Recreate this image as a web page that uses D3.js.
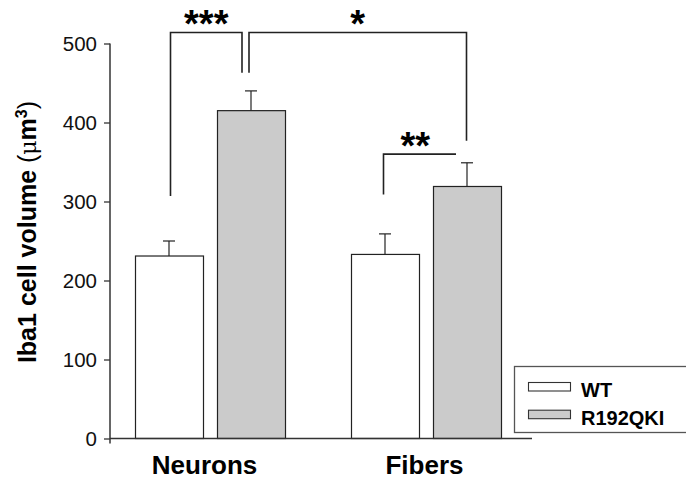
<!DOCTYPE html>
<html><head><meta charset="utf-8">
<script src="https://cdn.jsdelivr.net/npm/d3@7"></script>
<style>
html,body{margin:0;padding:0;background:#fff;}
svg{display:block;font-family:"Liberation Sans",Arial,Helvetica,sans-serif;}
</style></head>
<body>
<svg id="chart" width="686" height="480"></svg>
<script>
const categories = ["Neurons", "Fibers"];
const seriesNames = ["WT", "R192QKI"];
const wtValues = [231, 233];
const qkiValues = [415, 319];
const wtErrors = [19, 26];
const qkiErrors = [25, 30];
const yTicks = [0, 100, 200, 300, 400, 500];
const yLabel = "Iba1 cell volume";
// significance brackets: [category, series] pairs and levels in data units
const sigLabels = ["***", "*", "**"];
const sigLeft = [["Neurons", "WT"], ["Neurons", "R192QKI"], ["Fibers", "WT"]];
const sigRight = [["Neurons", "R192QKI"], ["Fibers", "R192QKI"], ["Fibers", "R192QKI"]];
const sigTop = [514, 514, 360];
const sigLeftBottom = [307, 463, 309];
const sigRightBottom = [463, 377, null];

const colors = {"WT": "#ffffff", "R192QKI": "#cbcbcb"};
const values = {"WT": wtValues, "R192QKI": qkiValues};
const errors = {"WT": wtErrors, "R192QKI": qkiErrors};

const svg = d3.select("#chart");
const y = d3.scaleLinear().domain([0, 500]).range([438.5, 43.5]);
const x0 = d3.scaleBand().domain(categories).range([102, 534]).paddingInner(0).paddingOuter(0);
const x1 = d3.scaleBand().domain(seriesNames).range([33, 183]).paddingInner(14/82).paddingOuter(0);

const barX = (c, s) => x0(c) + x1(s);
const barC = (c, s) => x0(c) + x1(s) + x1.bandwidth() / 2;

const data = [];
categories.forEach((c, i) => seriesNames.forEach(s => data.push({c, s, v: values[s][i], e: errors[s][i]})));

const g = svg.append("g");
g.selectAll(".err").data(data).enter().append("line")
  .attr("x1", d => barC(d.c, d.s)).attr("x2", d => barC(d.c, d.s))
  .attr("y1", d => y(d.v)).attr("y2", d => y(d.v + d.e))
  .attr("stroke", "#222").attr("stroke-width", 1.2);
g.selectAll(".cap").data(data).enter().append("line")
  .attr("x1", d => barC(d.c, d.s) - 6).attr("x2", d => barC(d.c, d.s) + 6)
  .attr("y1", d => y(d.v + d.e)).attr("y2", d => y(d.v + d.e))
  .attr("stroke", "#222").attr("stroke-width", 1.2);
g.selectAll(".bar").data(data).enter().append("rect")
  .attr("x", d => barX(d.c, d.s) + 0.5)
  .attr("y", d => y(d.v))
  .attr("width", x1.bandwidth())
  .attr("height", d => y(0) - y(d.v))
  .attr("fill", d => colors[d.s])
  .attr("stroke", "#222").attr("stroke-width", 1.2);

// y axis
const yAxis = d3.axisLeft(y).tickValues(yTicks).tickSize(6).tickPadding(7).tickFormat(d3.format("d"));
const ya = svg.append("g").attr("transform", "translate(110,0)").call(yAxis);
ya.select(".domain").remove();
ya.append("line").attr("x1", 0).attr("x2", 0).attr("y1", y(500)).attr("y2", y(0) + 5).attr("stroke", "#333").attr("stroke-width", 1.5);
ya.selectAll(".tick line").attr("stroke", "#333").attr("stroke-width", 1.3);
ya.selectAll(".tick text").attr("font-size", 20.5).attr("fill", "#111").attr("font-family", "Liberation Sans, Arial, sans-serif");

// x axis
const xAxis = d3.axisBottom(x0).tickSize(0).tickPadding(17);
const xa = svg.append("g").attr("transform", `translate(0,${y(0)})`).call(xAxis);
xa.select(".domain").remove();
xa.append("line").attr("x1", 110).attr("x2", 532).attr("y1", 0).attr("y2", 0).attr("stroke", "#333").attr("stroke-width", 1.5);
xa.selectAll(".tick text").attr("font-size", 26).attr("font-weight", "bold").attr("fill", "#000")
  .attr("font-family", "Liberation Sans, Arial, sans-serif").attr("dx", d => d === "Neurons" ? -5.5 : -1.5);

// y label
const yl = svg.append("text").attr("transform", "translate(36,232) rotate(-90)")
  .attr("text-anchor", "middle").attr("font-size", 25).attr("font-weight", "bold").attr("fill", "#000");
yl.append("tspan").text(yLabel + " ");
yl.append("tspan").attr("font-weight", "normal").text("(");
yl.append("tspan").attr("font-weight", "normal").attr("font-family", "DejaVu Serif, serif").attr("font-size", 22).text("μ");
yl.append("tspan").text("m");
yl.append("tspan").attr("dy", -9).attr("font-size", 16).text("3");
yl.append("tspan").attr("dy", 9).attr("font-weight", "normal").text(")");

// significance brackets
const offsets = [[1.5, -9], [-2, -0.5], [-1.5, -11]];
const labelShift = [0, 0, -4.5];
sigLabels.forEach((lab, i) => {
  const xl = barC(...sigLeft[i]) + offsets[i][0];
  const xr = barC(...sigRight[i]) + offsets[i][1];
  const pts = [[xl, y(sigLeftBottom[i])], [xl, y(sigTop[i])], [xr, y(sigTop[i])]];
  if (sigRightBottom[i] !== null) pts.push([xr, y(sigRightBottom[i])]);
  svg.append("path").attr("d", d3.line()(pts)).attr("fill", "none").attr("stroke", "#222").attr("stroke-width", 1.6);
  svg.append("text").attr("x", (xl + xr) / 2 + labelShift[i]).attr("y", y(sigTop[i]) + 5)
    .attr("text-anchor", "middle").attr("font-size", 38).attr("font-weight", "bold").attr("fill", "#000").text(lab);
});

// legend
const lg = svg.append("g");
lg.append("rect").attr("x", 514.5).attr("y", 366.5).attr("width", 200).attr("height", 66)
  .attr("fill", "#fff").attr("stroke", "#555").attr("stroke-width", 1.3);
seriesNames.forEach((s, i) => {
  lg.append("rect").attr("x", 528.5).attr("y", 382.5 + i * 27.7).attr("width", 42).attr("height", 8.5)
    .attr("fill", colors[s]).attr("stroke", "#333").attr("stroke-width", 1.1);
  lg.append("text").attr("x", 581).attr("y", 397 + i * 27.7).attr("font-size", 20).attr("font-weight", "bold")
    .attr("fill", "#000").text(s);
});
</script>
</body></html>
